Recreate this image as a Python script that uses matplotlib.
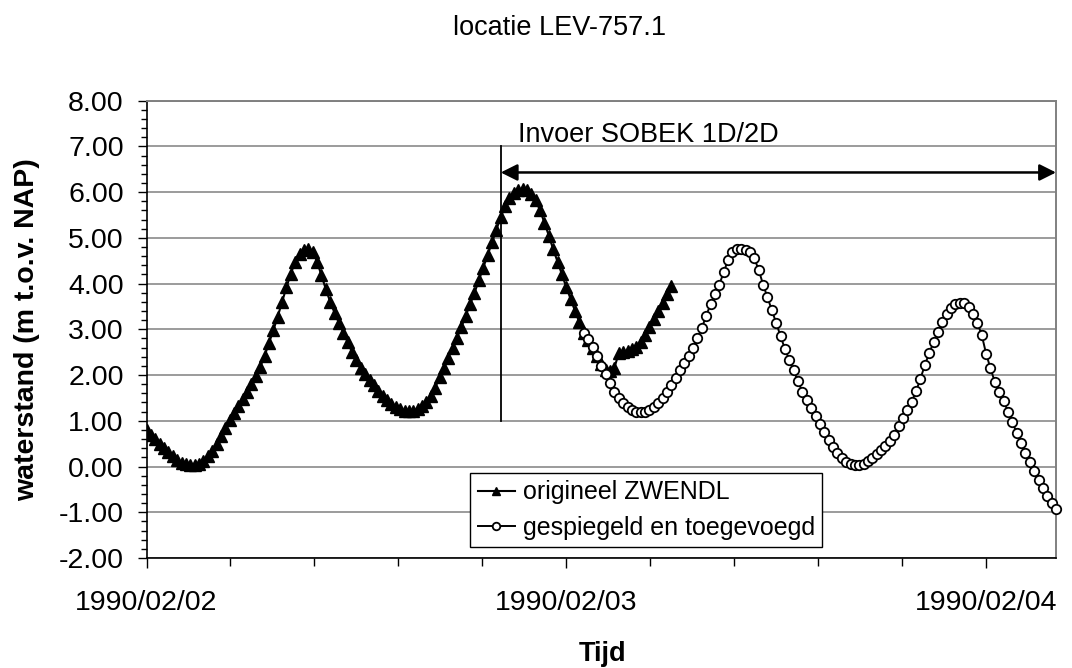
import numpy as np
from matplotlib import pyplot as plt
from matplotlib.ticker import AutoMinorLocator, FixedLocator, FormatStrFormatter

plt.rcParams['font.family'] = ['Liberation Sans', 'DejaVu Sans']

# time in hours after 1990/02/02 00:00, 15 minute steps
tStep = 0.25
tOrigStart, tOrigEnd = 0.0, 30.0
tMirrStart, tMirrEnd = 25.0, 52.0

# origineel ZWENDL (m t.o.v. NAP)
levelOrig = [
    0.80, 0.70, 0.60, 0.50,
    0.40, 0.31, 0.22, 0.14,
    0.08, 0.05, 0.04, 0.04,
    0.06, 0.12, 0.22, 0.35,
    0.50, 0.66, 0.84, 1.02,
    1.18, 1.33, 1.48, 1.64,
    1.80, 1.98, 2.18, 2.42,
    2.70, 2.98, 3.28, 3.60,
    3.92, 4.22, 4.48, 4.65,
    4.74, 4.76, 4.70, 4.48,
    4.18, 3.88, 3.60, 3.36,
    3.14, 2.93, 2.72, 2.50,
    2.32, 2.16, 2.03, 1.90,
    1.78, 1.66, 1.55, 1.45,
    1.37, 1.30, 1.25, 1.22,
    1.21, 1.22, 1.26, 1.32,
    1.42, 1.55, 1.72, 1.95,
    2.15, 2.38, 2.60, 2.82,
    3.05, 3.30, 3.55, 3.80,
    4.07, 4.35, 4.62, 4.90,
    5.18, 5.45, 5.70, 5.88,
    5.99, 6.05, 6.07, 6.05,
    5.97, 5.82, 5.60, 5.33,
    5.05, 4.75, 4.48, 4.20,
    3.92, 3.66, 3.40, 3.15,
    2.92, 2.76, 2.60, 2.42,
    2.25, 2.12, 2.08, 2.16,
    2.48, 2.50, 2.52, 2.57,
    2.62, 2.72, 2.88, 3.05,
    3.22, 3.40, 3.58, 3.77,
    3.95,
]

# gespiegeld en toegevoegd (m t.o.v. NAP)
levelMirr = [
    2.92, 2.78, 2.62, 2.42,
    2.20, 2.02, 1.83, 1.64,
    1.50, 1.38, 1.30, 1.24,
    1.20, 1.19, 1.20, 1.23,
    1.30, 1.39, 1.50, 1.63,
    1.78, 1.94, 2.10, 2.26,
    2.42, 2.60, 2.80, 3.03,
    3.30, 3.55, 3.78, 3.98,
    4.25, 4.52, 4.68, 4.75,
    4.76, 4.74, 4.68, 4.55,
    4.30, 3.98, 3.70, 3.42,
    3.14, 2.85, 2.57, 2.33,
    2.10, 1.86, 1.63, 1.45,
    1.28, 1.10, 0.93, 0.76,
    0.58, 0.43, 0.30, 0.18,
    0.10, 0.05, 0.04, 0.04,
    0.06, 0.11, 0.18, 0.27,
    0.36, 0.45, 0.56, 0.70,
    0.88, 1.05, 1.24, 1.42,
    1.65, 1.92, 2.22, 2.48,
    2.72, 2.95, 3.15, 3.33,
    3.47, 3.55, 3.58, 3.57,
    3.48, 3.33, 3.14, 2.88,
    2.47, 2.15, 1.85, 1.64,
    1.44, 1.20, 0.97, 0.74,
    0.51, 0.30, 0.10, -0.10,
    -0.29, -0.47, -0.65, -0.80,
    -0.93,
]

dayTicks = [0, 24, 48]
dayLabels = ["1990/02/02", "1990/02/03", "1990/02/04"]
sobekStart = 20.25
sobekLine = (1.0, 7.0)
sobekArrowLevel = 6.43


def MakeFigure():
    fig = plt.figure(figsize=(10.72, 6.68), dpi=100)
    ax = fig.add_axes([0.1367, 0.1647, 0.8484, 0.6846])

    tOrig = np.arange(tOrigStart, tOrigEnd + tStep / 2, tStep)
    tMirr = np.arange(tMirrStart, tMirrEnd + tStep / 2, tStep)

    ax.plot(tOrig, levelOrig, color='black', lw=1.5, marker='^', ms=8,
            mfc='black', mec='black', label="origineel ZWENDL", zorder=3)
    ax.plot(tMirr, levelMirr, color='black', lw=1.4, marker='o', ms=6.8,
            mfc='white', mec='black', mew=1.3, label="gespiegeld en toegevoegd",
            zorder=4, clip_on=False)

    # start SOBEK input
    ax.plot([sobekStart, sobekStart], sobekLine, color='black', lw=1.3, zorder=2)
    ax.annotate('', xy=(tMirrEnd, sobekArrowLevel), xytext=(sobekStart, sobekArrowLevel),
                arrowprops=dict(arrowstyle='<|-|>,head_length=0.5,head_width=0.25',
                                color='black', lw=1.8, mutation_scale=20,
                                shrinkA=0, shrinkB=0), annotation_clip=False, zorder=5)
    ax.text(sobekStart + 1.0, 7.10, "Invoer SOBEK 1D/2D", fontsize=19.5, va='baseline', ha='left')

    ax.set_xlim(tOrigStart, tMirrEnd)
    ax.set_ylim(-2, 8)

    ax.xaxis.set_major_locator(FixedLocator(dayTicks))
    ax.set_xticklabels(dayLabels)
    ax.xaxis.set_minor_locator(FixedLocator([t for t in np.arange(0, tMirrEnd, 4.8) if t % 24 != 0]))
    ax.yaxis.set_major_locator(FixedLocator(np.arange(-2, 8.5, 1)))
    ax.yaxis.set_minor_locator(AutoMinorLocator(5))
    ax.yaxis.set_major_formatter(FormatStrFormatter('%.2f'))

    ax.tick_params(axis='x', which='major', direction='out', length=7, width=1, labelsize=20.5, pad=16)
    ax.tick_params(axis='x', which='minor', direction='out', length=6, width=1)
    ax.tick_params(axis='y', which='major', direction='out', length=6.5, width=1, labelsize=20.5, pad=10)
    ax.tick_params(axis='y', which='minor', direction='out', length=4, width=1)

    ax.grid(axis='y', which='major', color='#808080', lw=1.1)
    ax.set_axisbelow(True)
    for side in ['top', 'right']:
        ax.spines[side].set_color('#808080')
        ax.spines[side].set_linewidth(1.4)
    for side in ['left', 'bottom']:
        ax.spines[side].set_linewidth(1.2)

    ax.set_ylabel("waterstand (m t.o.v. NAP)", fontsize=20.5, fontweight='bold', labelpad=13)
    fig.text(0.5625, 0.011, "Tijd", fontsize=19.5, fontweight='bold', ha='center', va='baseline')
    fig.text(0.522, 0.958, "locatie LEV-757.1", fontsize=19.5, ha='center', va='center')

    leg = ax.legend(loc='upper left', bbox_to_anchor=(0.3557, 0.186), fontsize=18,
                    frameon=True, fancybox=False, edgecolor='black', framealpha=1,
                    handlelength=1.5, handletextpad=0.3, borderpad=0.3, labelspacing=0.45,
                    borderaxespad=0, markerscale=0.8)
    leg.get_frame().set_linewidth(1.0)
    return fig


if __name__ == "__main__":
    fig = MakeFigure()
    fig.savefig("out.png", dpi=100)
